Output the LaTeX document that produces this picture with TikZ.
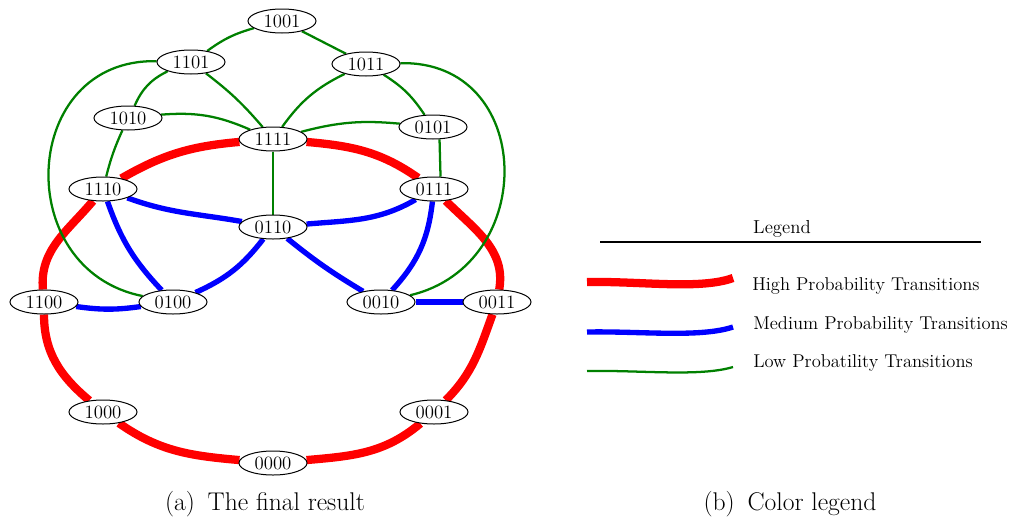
\documentclass[tikz,border=0pt]{standalone}
\usepackage{tikz}
\usetikzlibrary{shapes.geometric,backgrounds}

\begin{document}
\begin{tikzpicture}[x=0.75pt,y=0.75pt,font=\fontsize{14.1}{17}\selectfont]
  % canvas: 1009 x 518 px, y downwards as negative
  \useasboundingbox (0,0) rectangle (1009,-518);
  \tikzset{st/.style={draw,ellipse,fill=white,line width=0.75pt,
                      minimum width=51pt,minimum height=18pt,inner sep=0pt},
           hi/.style={red,line width=6.2pt},
           med/.style={blue,line width=4pt},
           lo/.style={green!50!black,line width=1.7pt},
           lgdtxt/.style={anchor=west,inner sep=0pt,font=\fontsize{13.9}{17}\selectfont},
           captxt/.style={font=\fontsize{19.2}{23}\selectfont}}
  % states
  \node[st] (s1001) at (282,-21)  {1001};
  \node[st] (s1101) at (191,-62)  {1101};
  \node[st] (s1011) at (366,-64)  {1011};
  \node[st] (s1010) at (128,-118) {1010};
  \node[st] (s0101) at (433,-127) {0101};
  \node[st] (s1111) at (273,-139) {1111};
  \node[st] (s1110) at (103,-189) {1110};
  \node[st] (s0111) at (434,-189) {0111};
  \node[st] (s0110) at (273,-227) {0110};
  \node[st] (s1100) at (44,-302)  {1100};
  \node[st] (s0100) at (173,-302) {0100};
  \node[st] (s0010) at (381,-302) {0010};
  \node[st] (s0011) at (497,-302) {0011};
  \node[st] (s1000) at (103,-412) {1000};
  \node[st] (s0001) at (434,-412) {0001};
  \node[st] (s0000) at (273,-463) {0000};
  \begin{pgfonlayer}{background}
    % high probability
    \draw[hi] (s1111) to[out=185,in=30] (s1110);
    \draw[hi] (s1111) to[out=-5,in=145] (s0111);
    \draw[hi] (s1110) to[out=-130,in=95] (s1100);
    \draw[hi] (s0111) to[out=-45,in=80] (s0011);
    \draw[hi] (s1100) to[out=-90,in=140] (s1000);
    \draw[hi] (s0011) to[out=-110,in=45] (s0001);
    \draw[hi] (s1000) to[out=-35,in=175] (s0000);
    \draw[hi] (s0001) to[out=-140,in=5] (s0000);
    % medium probability
    \draw[med] (s1110) to[out=-20,in=170] (s0110);
    \draw[med] (s0111) to[out=-150,in=5] (s0110);
    \draw[med] (s1110) to[bend right=12] (s0100);
    \draw[med] (s0110) to[bend left=14] (s0100);
    \draw[med] (s0110) to[bend right=4] (s0010);
    \draw[med] (s0111) to[bend left=18] (s0010);
    \draw[med] (s1100) to[bend right=8] (s0100);
    \draw[med] (s0010) -- (s0011);
    % low probability
    \draw[lo] (s1001) to[bend right=10] (s1101);
    \draw[lo] (s1001) -- (s1011);
    \draw[lo] (s1101) to[bend right=20] (s1010);
    \draw[lo] (s1101) to[bend left=6] (s1111);
    \draw[lo] (s1101) .. controls (20,-58) and (10,-270) .. (s0100);
    \draw[lo] (s1011) to[bend right=14] (s1111);
    \draw[lo] (s1011) to[bend left=12] (s0101);
    \draw[lo] (s1011) .. controls (535,-60) and (540,-265) .. (s0010);
    \draw[lo] (s1010) to[bend left=14] (s1111);
    \draw[lo] (s1010) to[bend right=5] (s1110);
    \draw[lo] (s0101) to[bend right=10] (s1111);
    \draw[lo] (s0101.-62) -- (s0111.62);
    \draw[lo] (s1111) -- (s0110);
  \end{pgfonlayer}
  % legend
  \node (lgd) at (782,-229) {Legend};
  \draw[line width=0.8pt] (600,-242) -- (981,-242);
  \draw[hi]  (587,-282) .. controls (640,-281) and (700,-290) .. (733,-278);
  \draw[med] (587,-332) .. controls (640,-331) and (700,-338) .. (733,-327);
  \draw[lo]  (587,-371) .. controls (640,-370) and (700,-377) .. (733,-367);
  \node[lgdtxt] (thi)  at (752,-286) {High Probability Transitions};
  \node[lgdtxt] (tmed) at (753,-325) {Medium Probability Transitions};
  \node[lgdtxt] (tlo)  at (753,-363) {Low Probatility Transitions};
  % captions
  \node[captxt] (capa) at (265,-504) {(a)\hspace{0.5em}The final result};
  \node[captxt] (capb) at (790,-504) {(b)\hspace{0.5em}Color legend};
\end{tikzpicture}
\end{document}
